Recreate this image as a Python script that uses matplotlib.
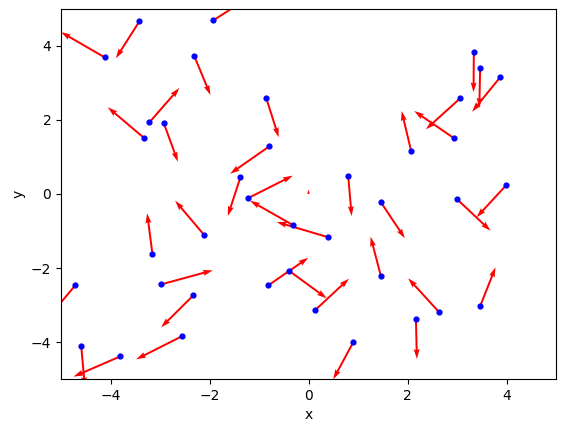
import numpy as np
import matplotlib
matplotlib.use("Agg")
import matplotlib.pyplot as plt

# start points (blue dots)
x = [-4.12, -3.415, -1.921, -2.305, -0.852, -3.213, -3.314, -2.922, -0.791, -1.376,
     -1.227, 3.34, 3.467, 3.871, 3.064, 2.943, 2.075, 0.803, 3.992, -2.103,
     -3.152, -0.307, 0.40, -4.712, -2.971, -2.325, -2.559, -3.798, -4.591, -0.811,
     -0.387, 0.131, 1.463, 1.463, 2.64, 2.17, 3.467, 3.003, 0.904]
y = [3.695, 4.668, 4.695, 3.722, 2.586, 1.938, 1.505, 1.911, 1.289, 0.451,
     -0.116, 3.83, 3.397, 3.154, 2.586, 1.505, 1.154, 0.478, 0.235, -1.116,
     -1.63, -0.846, -1.17, -2.468, -2.441, -2.738, -3.846, -4.386, -4.116, -2.468,
     -2.081, -3.143, -0.224, -2.224, -3.197, -3.386, -3.035, -0.143, -4.008]
# arrow components
u = [-0.88, -0.476, 0.84, 0.323, 0.25, 0.605, -0.739, 0.283, -0.793, -0.254,
     0.908, -0.006, -0.016, -0.565, -0.692, -0.807, -0.194, 0.069, -0.597, -0.591,
     -0.107, -0.874, -1.041, -0.58, 1.037, -0.652, -0.922, -0.949, 0.073, 0.807,
     0.755, 0.686, 0.484, -0.208, -0.626, 0.02, 0.311, 0.674, -0.404]
v = [0.68, -1.0, 0.72, -1.046, -1.054, 0.927, 0.838, -1.038, -0.741, -1.046,
     0.611, -1.081, -1.065, -0.93, -0.838, 0.738, 1.089, -1.073, -0.865, 0.935,
     1.108, 0.665, 0.414, -0.93, 0.378, -0.865, -0.622, -0.551, -1.1, 0.746,
     -0.738, 0.854, -0.973, 1.07, 0.919, -1.073, 1.054, -0.849, -1.0]

# the lone tiny arrow at the origin (no dot)
x0, y0, u0, v0 = [0.0], [0.0], [0.0], [0.12]

fig = plt.figure(figsize=(5.65, 4.32), dpi=100)
ax = fig.add_axes([61/565, 53/432, 495/565, 370/432])

ax.quiver(x, y, u, v, color="r", angles="xy", scale_units="xy", scale=1,
          width=0.004)
ax.quiver(x0, y0, u0, v0, color="r", angles="xy", scale_units="xy", scale=1,
          width=0.004)
ax.scatter(x, y, c="b", s=12, zorder=3)

ax.set_xlim(-5, 5)
ax.set_ylim(-5, 5)
ax.set_xlabel("x")
ax.set_ylabel("y")

fig.savefig("out.png", dpi=100)
